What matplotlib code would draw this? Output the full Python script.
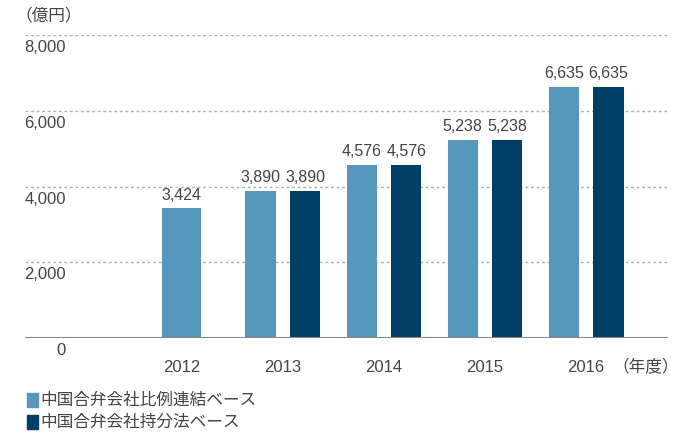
import matplotlib.pyplot as plt
import numpy as np

plt.rcParams['font.family'] = ['Liberation Sans', 'Noto Sans CJK JP', 'DejaVu Sans']

# data
years = ["2012", "2013", "2014", "2015", "2016"]
proportional = [3424, 3890, 4576, 5238, 6635]   # 中国合弁会社比例連結ベース
equity = [None, 3890, 4576, 5238, 6635]          # 中国合弁会社持分法ベース
y_ticks = [0, 2000, 4000, 6000, 8000]

light = '#5897BC'
dark = '#003F65'
text_c = '#444444'

fig = plt.figure(figsize=(6.82, 4.33), dpi=100)
ax = fig.add_axes([25 / 682, 95 / 433, 643 / 682, 303 / 433])

x = np.arange(len(years))
w = 0.30
off = 0.22

def label(xp, v):
    ax.annotate(f"{v:,}", (xp, v), xytext=(0, 4), textcoords='offset points',
                ha='center', va='bottom', fontsize=11.5, color=text_c)

for i, (p, e) in enumerate(zip(proportional, equity)):
    if e is None:
        # single bar, wider and centred
        ax.bar(x[i], p, width=0.38, color=light, zorder=3)
        label(x[i], p)
    else:
        ax.bar(x[i] - off, p, width=w, color=light, zorder=3)
        ax.bar(x[i] + off, e, width=w, color=dark, zorder=3)
        label(x[i] - off, p)
        label(x[i] + off, e)

ax.set_xlim(-1.55, 4.81)
ax.set_ylim(0, 8000)

for v in y_ticks[1:]:
    ax.axhline(v, color='#b0b0b0', lw=1, ls=(0, (2, 2)), zorder=1)
ax.axhline(0, color='#888888', lw=1.5, zorder=4)

for s in ax.spines.values():
    s.set_visible(False)
ax.set_xticks([])
ax.set_yticks([])

# y labels sit under their gridlines
for v in y_ticks:
    ax.annotate(f"{v:,}", (0, v), xycoords=('axes fraction', 'data'),
                xytext=(41, -5), textcoords='offset pixels',
                ha='right', va='top', fontsize=12, color=text_c)

# x labels
for i, yr in enumerate(years):
    ax.annotate(yr, (x[i], 0), xytext=(0, -22), textcoords='offset pixels',
                ha='center', va='top', fontsize=12, color=text_c)

fig.text(612 / 682, 1 - 368 / 433, "（年度）", ha='left', va='center',
         fontsize=12, color=text_c, family=['Noto Sans CJK JP'])
fig.text(15 / 682, 1 - 16 / 433, "（億円）", ha='left', va='center',
         fontsize=12, color=text_c, family=['Noto Sans CJK JP'])

# legend
legend_items = [("中国合弁会社比例連結ベース", light), ("中国合弁会社持分法ベース", dark)]
for k, (lab, c) in enumerate(legend_items):
    yc = 1 - (400 + 22 * k) / 433
    fig.patches.append(plt.Rectangle((27 / 682, yc - 7 / 433), 11 / 682, 14 / 433,
                                     transform=fig.transFigure, color=c, figure=fig))
    fig.text(40 / 682, yc, lab, ha='left', va='center', fontsize=12, color=text_c,
             family=['Noto Sans CJK JP'])

fig.savefig('out.png', dpi=100)
